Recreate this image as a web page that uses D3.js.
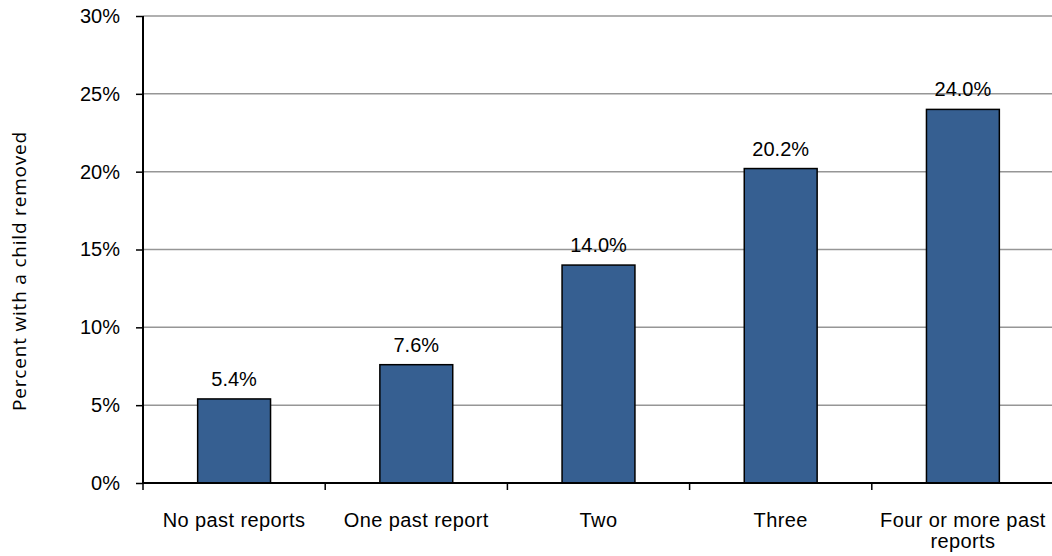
<!DOCTYPE html>
<html><head><meta charset="utf-8">
<script src="https://cdn.jsdelivr.net/npm/d3@7"></script>
<style>
body{margin:0;background:#fff;overflow:hidden;}
</style></head>
<body><svg id="c" width="1052" height="556"></svg>
<script>
const categories = ["No past reports","One past report","Two","Three","Four or more past reports"];
const values = [5.4, 7.6, 14.0, 20.2, 24.0];
const yTicks = [0,5,10,15,20,25,30];
const yTitle = "Percent with a child removed";

const FONT = "'Liberation Sans', Arial, sans-serif";
const svg = d3.select("#c");
const m = {left:143, right:1054, top:16, bottom:483};
const x = d3.scaleBand().domain(categories).range([m.left, m.right]).paddingInner(0.6).paddingOuter(0.3);
const y = d3.scaleLinear().domain([0,30]).range([m.bottom, m.top]);

// gridlines
svg.append("g").selectAll("line").data(yTicks.filter(d=>d>0)).join("line")
  .attr("x1", m.left).attr("x2", m.right)
  .attr("y1", d=>y(d)).attr("y2", d=>y(d))
  .attr("stroke","#969696").attr("stroke-width",1.5);

// bars
svg.append("g").selectAll("rect").data(values).join("rect")
  .attr("x",(d,i)=>x(categories[i])).attr("width",x.bandwidth())
  .attr("y",d=>y(d)).attr("height",d=>y(0)-y(d))
  .attr("fill","#365F91").attr("stroke","#000").attr("stroke-width",1.5);

// value labels
svg.append("g").selectAll("text").data(values).join("text")
  .attr("x",(d,i)=>x(categories[i])+x.bandwidth()/2)
  .attr("y",d=>y(d)-13)
  .attr("text-anchor","middle").style("font-family",FONT).style("font-size","20px").attr("fill","#000")
  .text(d=>d.toFixed(1)+"%");

// y axis
const ya = d3.axisLeft(y).tickValues(yTicks).tickFormat(d=>d+"%").tickSize(7).tickPadding(16);
const gy = svg.append("g").attr("transform",`translate(${m.left},0)`).call(ya);
gy.select(".domain").attr("stroke","#000").attr("stroke-width",2).attr("d",`M0,${m.top}V${m.bottom}`);
gy.selectAll(".tick line").attr("stroke","#000").attr("stroke-width",1.5);
gy.selectAll(".tick text").style("font-size","20px").attr("fill","#000").style("font-family",FONT);

// x axis
const step = x.step();
const bounds = d3.range(categories.length+1).map(i=>m.left + i*step);
svg.append("line").attr("x1",m.left).attr("x2",m.right).attr("y1",m.bottom).attr("y2",m.bottom)
  .attr("stroke","#000").attr("stroke-width",2);
svg.append("g").selectAll("line").data(bounds).join("line")
  .attr("x1",d=>d).attr("x2",d=>d).attr("y1",m.bottom).attr("y2",m.bottom+7)
  .attr("stroke","#000").attr("stroke-width",1.5);

const catLines = c => c==="Four or more past reports" ? ["Four or more past","reports"] : [c];
const xl = svg.append("g").selectAll("text").data(categories).join("text")
  .attr("x",d=>x(d)+x.bandwidth()/2).attr("y",527)
  .attr("text-anchor","middle").style("font-family",FONT).style("font-size","20px").style("letter-spacing","0.4px").attr("fill","#000");
xl.each(function(d){
  const t = d3.select(this);
  catLines(d).forEach((s,i)=>t.append("tspan").attr("x",x(d)+x.bandwidth()/2).attr("dy",i?21:0).text(s));
});

// y title
svg.append("text").attr("transform",`translate(26,271) rotate(-90)`)
  .attr("text-anchor","middle").style("font-size","19px").style("letter-spacing","0.8px")
  .style("font-family","'Open Sans', 'Noto Sans', sans-serif").attr("fill","#000").text(yTitle);
</script></body></html>
